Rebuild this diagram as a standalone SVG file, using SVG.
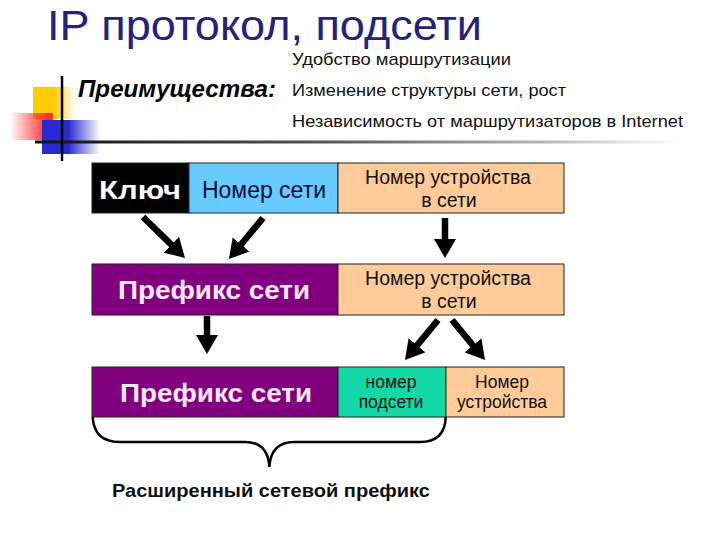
<svg xmlns="http://www.w3.org/2000/svg" width="720" height="540" viewBox="0 0 720 540">
<defs>
<style>
.t{font-family:"Liberation Sans",Arial,sans-serif}
.box{stroke:#222;stroke-width:1}
.bk{fill:#000}.bl{fill:#66ccff}.or{fill:#ffcc99}.pu{fill:#800080}.te{fill:#12d8a6}
.big{font-size:26px;font-weight:bold;fill:#fbe8fb}
.dev{font-size:19.5px;fill:#111}
.sm{font-size:17.5px;fill:#111}
.item{font-size:17px;fill:#111}
.conn line{stroke:#000;stroke-width:6.5}
</style>
<marker id="ah" viewBox="0 -11 19 22" refX="2" refY="0" markerWidth="19" markerHeight="22" markerUnits="userSpaceOnUse" orient="auto">
<path d="M0,-11 L19,0 L0,11 z" fill="#000"/>
</marker>
<linearGradient id="gy" x1="0" x2="1" y1="0" y2="0"><stop offset="0" stop-color="#ffcc00"/><stop offset="0.5" stop-color="#ffcc00"/><stop offset="1" stop-color="#ffcc00" stop-opacity="0"/></linearGradient>
<linearGradient id="gr" x1="0" x2="1" y1="0" y2="0"><stop offset="0" stop-color="#ff3333" stop-opacity="0"/><stop offset="0.85" stop-color="#ff3030"/><stop offset="1" stop-color="#ff3030"/></linearGradient>
<linearGradient id="gb" x1="0" x2="1" y1="0" y2="0"><stop offset="0" stop-color="#2a2ad0"/><stop offset="0.45" stop-color="#2a2ad0"/><stop offset="1" stop-color="#2a2ad0" stop-opacity="0"/></linearGradient>
<linearGradient id="gl" x1="35" x2="680" y1="0" y2="0" gradientUnits="userSpaceOnUse"><stop offset="0" stop-color="#111"/><stop offset="0.45" stop-color="#555"/><stop offset="0.8" stop-color="#bbb"/><stop offset="1" stop-color="#fff"/></linearGradient>
</defs>
<rect width="720" height="540" fill="#fff"/>

<g id="decor">
<rect x="33" y="87" width="42" height="32" fill="url(#gy)"/>
<rect x="10" y="113" width="43" height="27" fill="url(#gr)"/>
<rect x="42" y="120" width="58" height="34" fill="url(#gb)"/>
<line x1="35" y1="142" x2="680" y2="142" stroke="url(#gl)" stroke-width="3"/>
<line x1="62" y1="76" x2="62" y2="161" stroke="#000" stroke-width="2.5"/>
</g>

<g id="title">
<text class="t" x="47" y="39.5" font-size="43" fill="#23237e" textLength="435" lengthAdjust="spacingAndGlyphs">IP протокол, подсети</text>
</g>

<g id="advantages">
<text class="t" x="78" y="97" font-size="23" font-weight="bold" font-style="italic" fill="#000" textLength="198" lengthAdjust="spacingAndGlyphs">Преимущества:</text>
<text class="t item" x="292" y="64.5" textLength="219" lengthAdjust="spacingAndGlyphs">Удобство маршрутизации</text>
<text class="t item" x="292" y="96" textLength="274" lengthAdjust="spacingAndGlyphs">Изменение структуры сети, рост</text>
<text class="t item" x="292" y="127" textLength="391" lengthAdjust="spacingAndGlyphs">Независимость от маршрутизаторов в Internet</text>
</g>

<g id="key">
<rect class="box bk" x="92" y="163" width="97" height="50"/>
<text class="t" x="99" y="199" font-size="26" font-weight="bold" fill="#fff" textLength="82" lengthAdjust="spacingAndGlyphs">Ключ</text>
</g>
<g id="net-number">
<rect class="box bl" x="189" y="163" width="149" height="50"/>
<text class="t" x="264" y="198" text-anchor="middle" font-size="23" fill="#0a0a3a">Номер сети</text>
</g>
<g id="device-number-1">
<rect class="box or" x="338" y="163" width="226" height="50"/>
<text class="t dev" x="448" y="184" text-anchor="middle">Номер устройства</text>
<text class="t dev" x="449" y="207" text-anchor="middle">в сети</text>
</g>

<g id="prefix-1">
<rect class="box pu" x="92" y="264" width="246" height="51"/>
<text class="t big" x="118" y="299" textLength="192" lengthAdjust="spacingAndGlyphs">Префикс сети</text>
</g>
<g id="device-number-2">
<rect class="box or" x="338" y="264" width="226" height="51"/>
<text class="t dev" x="448" y="285" text-anchor="middle">Номер устройства</text>
<text class="t dev" x="449" y="308" text-anchor="middle">в сети</text>
</g>

<g id="prefix-2">
<rect class="box pu" x="92" y="367" width="246" height="50"/>
<text class="t big" x="120" y="402" textLength="192" lengthAdjust="spacingAndGlyphs">Префикс сети</text>
</g>
<g id="subnet-number">
<rect class="box te" x="338" y="367" width="108" height="50"/>
<text class="t sm" x="391" y="388" text-anchor="middle">номер</text>
<text class="t sm" x="391" y="408" text-anchor="middle">подсети</text>
</g>
<g id="device-number-3">
<rect class="box or" x="446" y="367" width="118" height="50"/>
<text class="t sm" x="502" y="388" text-anchor="middle">Номер</text>
<text class="t sm" x="502" y="408" text-anchor="middle">устройства</text>
</g>

<g id="connectors" class="conn">
<line x1="143" y1="217" x2="172.8" y2="246.1" marker-end="url(#ah)"/>
<line x1="263" y1="218" x2="239.8" y2="246" marker-end="url(#ah)"/>
<line x1="445" y1="218" x2="445" y2="241" marker-end="url(#ah)"/>
<line x1="207" y1="316" x2="207" y2="337" marker-end="url(#ah)"/>
<line x1="438" y1="320" x2="415.8" y2="346.9" marker-end="url(#ah)"/>
<line x1="452" y1="320" x2="474.2" y2="346.9" marker-end="url(#ah)"/>
</g>

<g id="brace">
<path d="M92.7,417 Q94,442 120,442 L245,442 Q268,442 269.3,467 Q271,442 294,442 L420,442 Q445,442 445.7,417" fill="none" stroke="#000" stroke-width="2.5"/>
<text class="t" x="112" y="497" font-size="19" font-weight="bold" fill="#111" textLength="318" lengthAdjust="spacingAndGlyphs">Расширенный сетевой префикс</text>
</g>
</svg>
